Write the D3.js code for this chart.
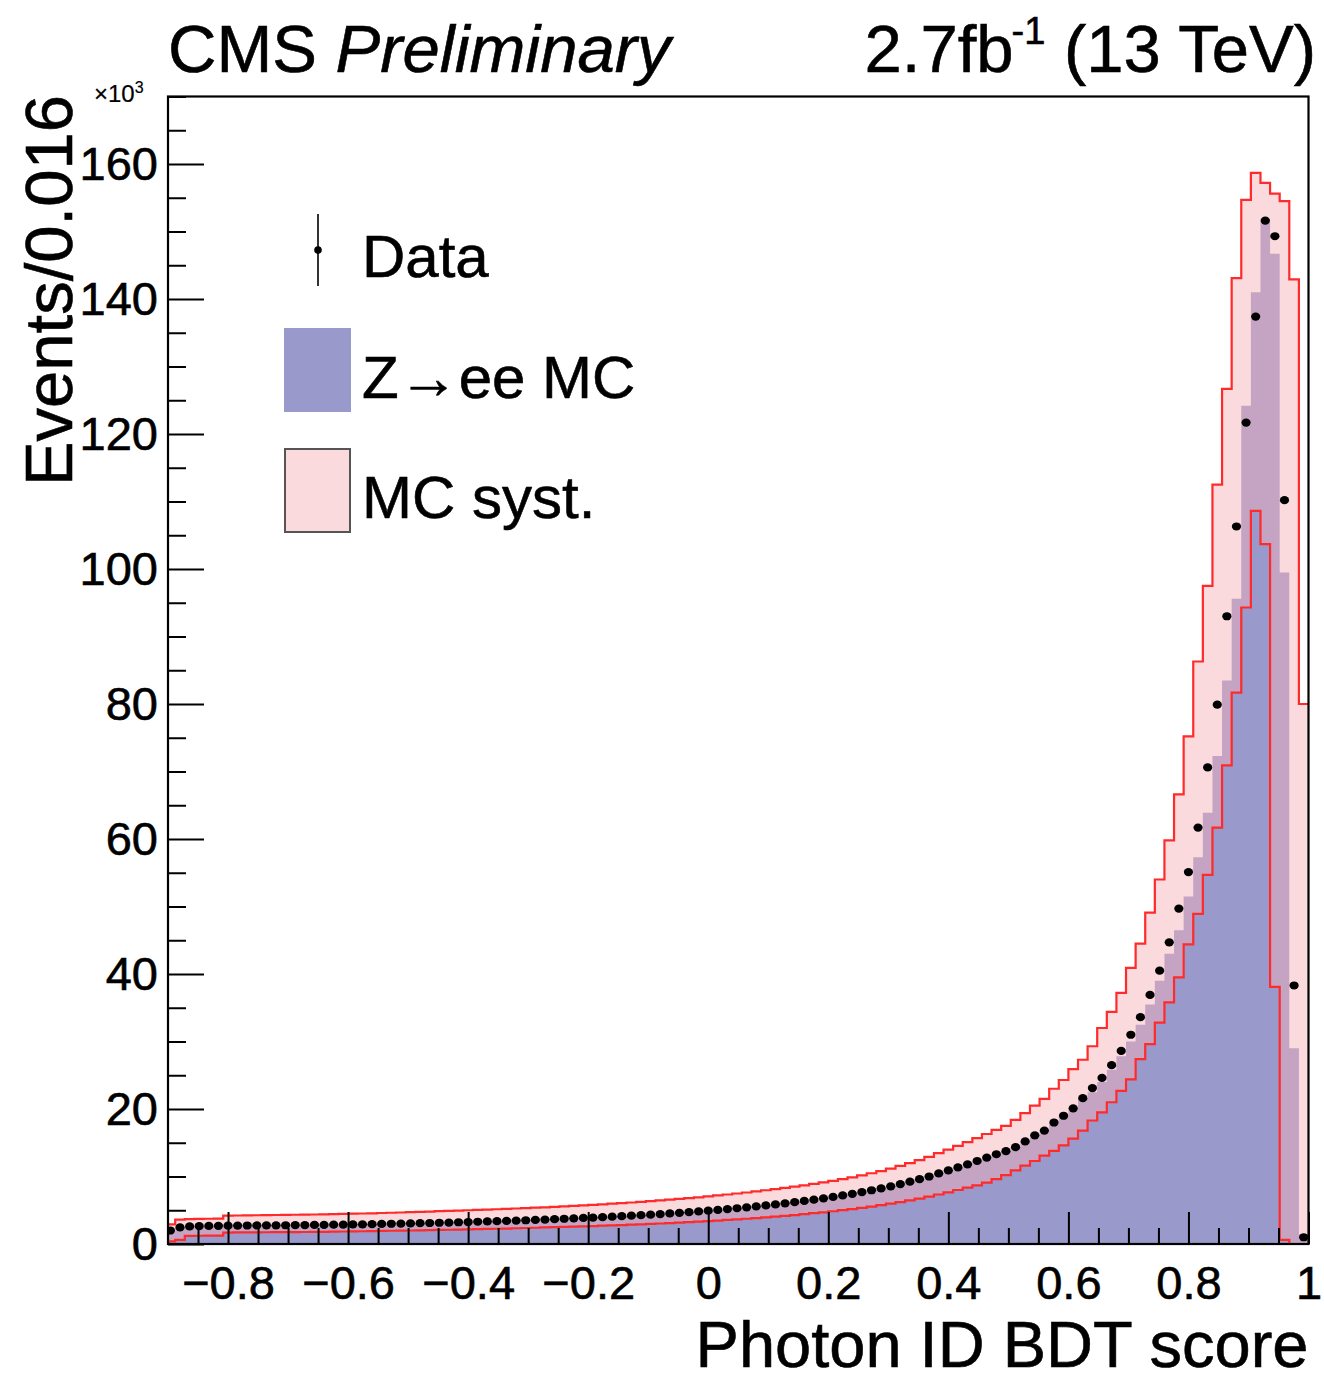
<!DOCTYPE html>
<html><head><meta charset="utf-8">
<script src="https://cdn.jsdelivr.net/npm/d3@7"></script>
<style>
body{margin:0;background:#fff}
svg{display:block}
text{font-family:"Liberation Sans",Arial,Helvetica,sans-serif;fill:#000;stroke:#000;stroke-width:0.6px}
</style>
</head><body>
<svg id="c" width="1324" height="1382"></svg>
<script>
// ---- binning (histogram definition) ----
const binLowEdge = -0.904;
const binWidth = 0.016;

// ---- values, in units of 10^3 events ----
const dataValues = [
  2.0, 2.45, 2.6, 2.65, 2.68, 2.70, 2.72, 2.73, 2.74, 2.75,
  2.76, 2.77, 2.78, 2.80, 2.81, 2.82, 2.84, 2.86, 2.88, 2.90,
  2.92, 2.94, 2.97, 3.00, 3.02, 3.05, 3.08, 3.11, 3.15, 3.18,
  3.22, 3.26, 3.30, 3.34, 3.38, 3.42, 3.47, 3.52, 3.57, 3.62,
  3.68, 3.74, 3.80, 3.86, 3.92, 3.98, 4.05, 4.12, 4.19, 4.27,
  4.35, 4.44, 4.53, 4.62, 4.72, 4.82, 4.93, 5.05, 5.17, 5.30,
  5.43, 5.57, 5.72, 5.87, 6.03, 6.20, 6.38, 6.57, 6.77, 6.98,
  7.20, 7.44, 7.69, 7.96, 8.24, 8.55, 8.88, 9.23, 9.60, 10.0,
  10.45, 10.9, 11.35, 11.8, 12.3, 12.8, 13.3, 13.75, 14.35, 15.2,
  16.1, 16.8, 18.0, 19.0, 20.1, 21.6, 23.1, 24.6, 26.5, 28.6,
  31.0, 33.6, 36.9, 40.5, 44.7, 49.7, 55.1, 61.7, 70.6, 79.9,
  93.0, 106.3, 121.7, 137.4, 151.6, 149.3, 110.2, 38.3, 1.0
];
const mcValues = [
  1.9, 2.4, 2.6, 2.65, 2.68, 2.70, 2.72, 2.73, 2.74, 2.75,
  2.76, 2.77, 2.78, 2.80, 2.81, 2.82, 2.84, 2.86, 2.88, 2.90,
  2.92, 2.94, 2.97, 3.00, 3.02, 3.05, 3.08, 3.11, 3.15, 3.18,
  3.22, 3.26, 3.30, 3.34, 3.38, 3.42, 3.47, 3.52, 3.57, 3.62,
  3.68, 3.74, 3.80, 3.86, 3.92, 3.98, 4.05, 4.12, 4.19, 4.27,
  4.35, 4.44, 4.53, 4.62, 4.72, 4.82, 4.93, 5.05, 5.17, 5.30,
  5.43, 5.57, 5.72, 5.87, 6.03, 6.20, 6.38, 6.57, 6.77, 6.98,
  7.20, 7.44, 7.69, 7.96, 8.24, 8.55, 8.88, 9.23, 9.60, 10.0,
  10.45, 10.9, 11.35, 11.8, 12.3, 12.8, 13.3, 13.75, 14.35, 15.2,
  16.1, 16.8, 18.0, 19.0, 20.1, 21.6, 22.5, 24.0, 25.8, 27.8,
  30.0, 32.5, 35.5, 39.0, 43.0, 46.5, 51.5, 57.3, 63.9, 72.3,
  83.5, 95.6, 124.2, 141.0, 151.9, 146.7, 99.5, 29.0, 1.5
];
const systUp = [
  2.9, 3.6, 3.7, 3.72, 3.74, 3.76, 4.20, 4.22, 4.24, 4.26,
  4.28, 4.30, 4.31, 4.33, 4.35, 4.37, 4.40, 4.43, 4.46, 4.49,
  4.52, 4.55, 4.59, 4.63, 4.67, 4.71, 4.76, 4.80, 4.86, 4.90,
  4.95, 5.00, 5.05, 5.10, 5.15, 5.20, 5.26, 5.32, 5.38, 5.44,
  5.51, 5.58, 5.65, 5.72, 5.80, 5.88, 5.97, 6.06, 6.15, 6.25,
  6.35, 6.46, 6.57, 6.68, 6.80, 6.92, 7.05, 7.19, 7.33, 7.48,
  7.63, 7.79, 7.96, 8.13, 8.31, 8.50, 8.70, 8.91, 9.13, 9.36,
  9.61, 9.88, 10.17, 10.48, 10.81, 11.17, 11.56, 11.98, 12.43, 12.92,
  13.45, 13.98, 14.55, 15.1, 15.7, 16.3, 16.9, 17.5, 18.4, 19.4,
  20.5, 21.5, 23.0, 24.3, 25.9, 27.3, 29.3, 32.0, 34.4, 37.2,
  40.9, 44.5, 49.1, 54.0, 59.8, 66.6, 75.2, 86.3, 97.5, 112.5,
  126.7, 143.1, 154.7, 158.7, 157.2, 155.6, 154.5, 142.9, 80.0
];
const systDown = [
  0.4, 0.6, 1.2, 1.22, 1.24, 1.25, 1.70, 1.71, 1.72, 1.73,
  1.74, 1.75, 1.76, 1.77, 1.78, 1.80, 1.81, 1.83, 1.85, 1.87,
  1.89, 1.91, 1.93, 1.96, 1.98, 2.00, 2.03, 2.05, 2.08, 2.11,
  2.14, 2.17, 2.20, 2.23, 2.26, 2.29, 2.33, 2.37, 2.41, 2.45,
  2.49, 2.53, 2.58, 2.62, 2.66, 2.71, 2.76, 2.81, 2.86, 2.92,
  2.98, 3.04, 3.10, 3.17, 3.24, 3.31, 3.39, 3.47, 3.56, 3.65,
  3.74, 3.84, 3.95, 4.06, 4.17, 4.29, 4.42, 4.56, 4.70, 4.85,
  5.01, 5.18, 5.36, 5.55, 5.75, 5.97, 6.21, 6.46, 6.73, 7.02,
  7.33, 7.65, 8.0, 8.35, 8.7, 9.1, 9.6, 10.2, 10.9, 11.6,
  12.3, 13.1, 13.8, 14.6, 15.6, 16.8, 18.3, 19.5, 21.0, 22.7,
  24.4, 27.4, 29.6, 32.8, 35.8, 39.5, 44.4, 48.9, 54.7, 61.7,
  70.9, 81.7, 94.3, 108.6, 103.7, 38.1, 0.6, 0, 0
];

const xTicks = [-0.8, -0.6, -0.4, -0.2, 0, 0.2, 0.4, 0.6, 0.8, 1];
const xTickLabels = ["\u22120.8", "\u22120.6", "\u22120.4", "\u22120.2", "0", "0.2", "0.4", "0.6", "0.8", "1"];
const xMinorTicks = [-0.85, -0.75, -0.7, -0.65, -0.55, -0.5, -0.45, -0.35, -0.3, -0.25, -0.15, -0.1, -0.05,
  0.05, 0.1, 0.15, 0.25, 0.3, 0.35, 0.45, 0.5, 0.55, 0.65, 0.7, 0.75, 0.85, 0.9, 0.95];
const yTicks = [0, 20, 40, 60, 80, 100, 120, 140, 160];
const yTickLabels = ["0", "20", "40", "60", "80", "100", "120", "140", "160"];
const yMinorTicks = [5, 10, 15, 25, 30, 35, 45, 50, 55, 65, 70, 75, 85, 90, 95, 105, 110, 115,
  125, 130, 135, 145, 150, 155, 165, 170];

const legendItems = ["Data", "Z\u2192ee MC", "MC syst."];

// ---- layout ----
const L = 168, R = 1308.5, T = 96.5, B = 1244;
const svg = d3.select("#c");
const x = d3.scaleLinear().domain([-0.9, 1.0]).range([L, R]);
const y = d3.scaleLinear().domain([0, 170]).range([B, T]);

const nb = dataValues.length;
const edges = d3.range(nb + 1).map(i => binLowEdge + i * binWidth);
const centers = d3.range(nb).map(i => binLowEdge + (i + 0.5) * binWidth);

svg.append("defs").append("clipPath").attr("id", "pc")
  .append("rect").attr("x", L).attr("y", T).attr("width", R - L).attr("height", B - T);
const g = svg.append("g").attr("clip-path", "url(#pc)");

function stepPts(vals) {
  const p = vals.map((v, i) => [edges[i], v]);
  p.push([edges[nb], vals[nb - 1]]);
  return p;
}

// MC histogram (blue fill)
g.append("path")
  .datum(stepPts(mcValues))
  .attr("fill", "#9999cc")
  .attr("d", d3.area().curve(d3.curveStepAfter).x(d => x(d[0])).y0(y(0)).y1(d => y(d[1])));

// syst band
const bandPts = systUp.map((u, i) => [edges[i], systDown[i], u]);
bandPts.push([edges[nb], systDown[nb - 1], systUp[nb - 1]]);
g.append("path")
  .datum(bandPts)
  .attr("fill", "rgb(245,176,183)")
  .attr("fill-opacity", 0.47)
  .attr("d", d3.area().curve(d3.curveStepAfter).x(d => x(d[0])).y0(d => y(d[1])).y1(d => y(d[2])));

const stepLine = d3.line().curve(d3.curveStepAfter).x(d => x(d[0])).y(d => y(d[1]));
[systUp, systDown].forEach(arr => {
  g.append("path").datum(stepPts(arr))
    .attr("fill", "none").attr("stroke", "#ff2a2a").attr("stroke-width", 2.2)
    .attr("d", stepLine);
});

// data points with stat errors
const pts = g.append("g");
dataValues.forEach((v, i) => {
  const e = Math.sqrt(v * 1000) / 1000;
  pts.append("line").attr("x1", x(centers[i])).attr("x2", x(centers[i]))
    .attr("y1", y(v - e)).attr("y2", y(v + e)).attr("stroke", "#000").attr("stroke-width", 1.5);
  pts.append("ellipse").attr("cx", x(centers[i])).attr("cy", y(v)).attr("rx", 4.6).attr("ry", 4.1).attr("fill", "#000");
});

// ---- axes ----
const fmtX = (d) => xTickLabels[xTicks.indexOf(d)];
const fmtY = (d) => yTickLabels[yTicks.indexOf(d)];

const xAx = svg.append("g").attr("transform", `translate(0,${B})`)
  .call(d3.axisBottom(x).tickValues(xTicks).tickSize(-32).tickPadding(22).tickFormat(fmtX));
xAx.select(".domain").remove();
xAx.selectAll("line").attr("stroke", "#000").attr("stroke-width", 2);
xAx.selectAll("text").attr("font-size", 47).style("font-family", '"Liberation Sans",Arial,sans-serif');

const xMin = svg.append("g").attr("transform", `translate(0,${B})`)
  .call(d3.axisBottom(x).tickValues(xMinorTicks).tickSize(-16).tickFormat(""));
xMin.select(".domain").remove();
xMin.selectAll("line").attr("stroke", "#000").attr("stroke-width", 2);

const yAx = svg.append("g").attr("transform", `translate(${L},0)`)
  .call(d3.axisLeft(y).tickValues(yTicks).tickSize(-36).tickPadding(10).tickFormat(fmtY));
yAx.select(".domain").remove();
yAx.selectAll("line").attr("stroke", "#000").attr("stroke-width", 2);
yAx.selectAll("text").attr("font-size", 47).style("font-family", '"Liberation Sans",Arial,sans-serif');

const yMin = svg.append("g").attr("transform", `translate(${L},0)`)
  .call(d3.axisLeft(y).tickValues(yMinorTicks).tickSize(-18).tickFormat(""));
yMin.select(".domain").remove();
yMin.selectAll("line").attr("stroke", "#000").attr("stroke-width", 2);

// frame
svg.append("rect").attr("x", L).attr("y", T).attr("width", R - L).attr("height", B - T)
  .attr("fill", "none").attr("stroke", "#000").attr("stroke-width", 2.2);

// exponent label
const ex = svg.append("text").attr("x", 94).attr("y", 102).attr("font-size", 24).style("stroke-width", "0.2px");
ex.append("tspan").text("\u00d710");
ex.append("tspan").attr("font-size", 16).attr("dy", -9).text("3");

// axis titles
svg.append("text").attr("x", R).attr("y", 1367).attr("text-anchor", "end")
  .attr("font-size", 65).text("Photon ID BDT score");
svg.append("text").attr("transform", "translate(72,95) rotate(-90)").attr("text-anchor", "end")
  .attr("font-size", 67).text("Events/0.016");

// header
const h1 = svg.append("text").attr("x", 168).attr("y", 72).attr("font-size", 67);
h1.append("tspan").text("CMS ");
h1.append("tspan").attr("font-style", "italic").text("Preliminary");
const h2 = svg.append("text").attr("x", 1316).attr("y", 72).attr("text-anchor", "end").attr("font-size", 67);
h2.append("tspan").text("2.7fb");
h2.append("tspan").attr("font-size", 38).attr("dy", -28).attr("dx", -2).text("-1");
h2.append("tspan").attr("dy", 28).text(" (13 TeV)");

// legend
const lg = svg.append("g");
lg.append("line").attr("x1", 318).attr("x2", 318).attr("y1", 214).attr("y2", 286)
  .attr("stroke", "#333").attr("stroke-width", 2);
lg.append("circle").attr("cx", 318).attr("cy", 250).attr("r", 3.8).attr("fill", "#000");
lg.append("rect").attr("x", 284).attr("y", 328).attr("width", 67).attr("height", 84).attr("fill", "#9999cc");
lg.append("rect").attr("x", 285).attr("y", 449).attr("width", 65).attr("height", 83)
  .attr("fill", "rgb(250,218,221)").attr("stroke", "#555").attr("stroke-width", 2);
[277, 398, 518].forEach((yy, i) => {
  lg.append("text").attr("x", 362).attr("y", yy).attr("font-size", 60).text(legendItems[i]);
});
</script>
</body></html>
